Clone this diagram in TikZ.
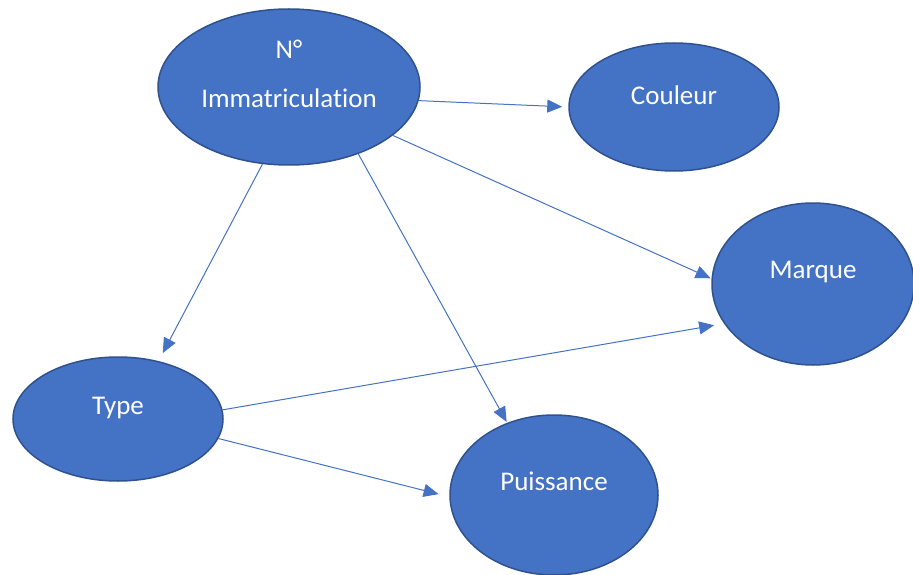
\documentclass[tikz,border=0pt]{standalone}
\usepackage{fontspec}
\setmainfont[Ligatures={NoCommon}]{Carlito}
\usetikzlibrary{shapes.geometric,arrows.meta}
\definecolor{efill}{HTML}{4472C4}
\definecolor{eline}{HTML}{2F528F}
\definecolor{arrc}{HTML}{4472C4}
\tikzset{
  ent/.style={ellipse, fill=efill, draw=eline, line width=1.5pt, inner sep=0pt},
  lbl/.style={text=white, font=\fontsize{27}{30}\selectfont, inner sep=0pt, text height=0.644em, text depth=0pt},
  arr/.style={draw=arrc, line width=1pt, -{Triangle[length=15pt,width=13pt]}}
}
\begin{document}
\begin{tikzpicture}[x=1pt,y=-1pt]
\useasboundingbox (0,0) rectangle (913,575);
\node[ent, minimum width=262pt, minimum height=156pt,
  label={[lbl,yshift=32pt]center:N°},
  label={[lbl,yshift=-17pt]center:Immatriculation}] (n) at (289,87) {};
\node[ent, minimum width=210pt, minimum height=128pt,
  label={[lbl,yshift=6pt]center:Couleur}] (c) at (674,107) {};
\node[ent, minimum width=202pt, minimum height=162pt,
  label={[lbl,yshift=9pt]center:Marque}] (m) at (813,284) {};
\node[ent, minimum width=210pt, minimum height=124pt,
  label={[lbl,yshift=8pt]center:Type}] (t) at (118,419) {};
\node[ent, minimum width=208pt, minimum height=160pt,
  label={[lbl,yshift=8pt]center:Puissance}] (p) at (554,495) {};
\draw[arr, shorten >=6pt] (n.-6) -- (c.180);
\draw[arr, shorten >=1pt] (n.-25) -- (m.177);
\draw[arr, shorten >=9pt] (n.-109) -- (t.55);
\draw[arr, shorten >=1pt] (n.-44) -- (p.123.5);
\draw[arr, shorten >=10pt] (t.5) -- (m.204);
\draw[arr, shorten >=11pt] (t.-11) -- (p.181);
\end{tikzpicture}
\end{document}
